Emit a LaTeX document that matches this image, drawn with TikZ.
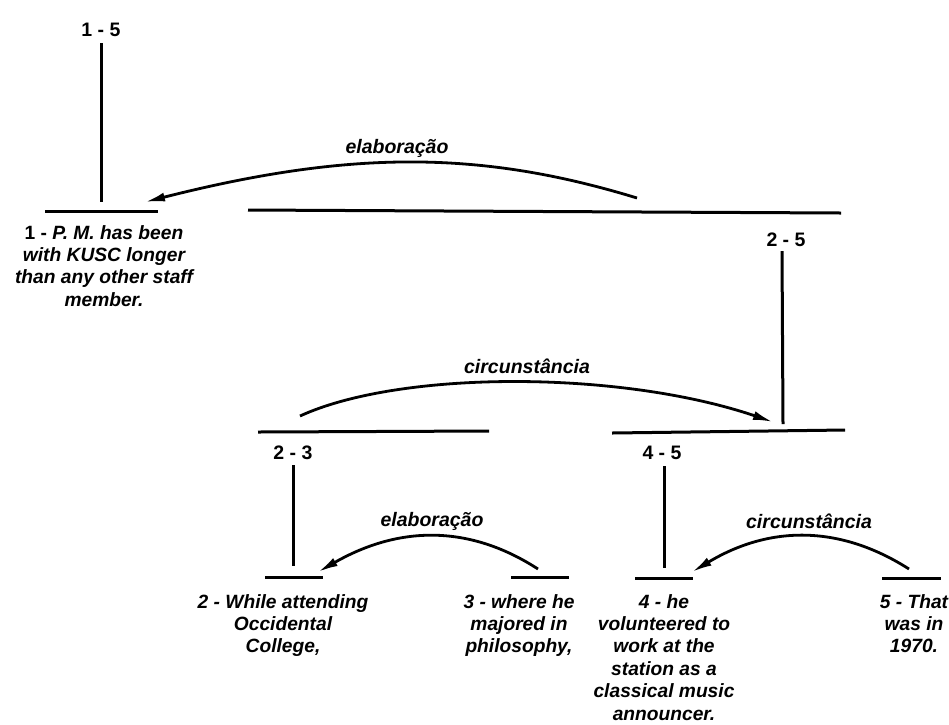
\documentclass[tikz,border=0pt]{standalone}
\usepackage{fontspec}
\setmainfont{Liberation Sans}
\usetikzlibrary{arrows.meta}
\begin{document}
\begin{tikzpicture}[x=1pt,y=-1pt,
  seg/.style={line width=3pt},
  rel/.style={line width=2.8pt,-{Latex[length=20pt,width=9pt]}},
  span/.style={font=\fontsize{19.5}{22.4}\selectfont\bfseries,inner sep=0pt},
  relname/.style={font=\fontsize{19.5}{22.4}\selectfont\bfseries\itshape,inner sep=0pt},
  leaf/.style={font=\fontsize{19.2}{22.4}\selectfont\bfseries\itshape,inner sep=0pt,align=center,anchor=north}]
\useasboundingbox (0,0) rectangle (949,724);

% root 1-5
\node[span] (s15) at (101,30) {1 - 5};
\coordinate (t15) at (101,43);
\coordinate (b15) at (101,202);
\draw[seg] (t15) -- (b15);

% leaf 1
\coordinate (l1a) at (45,211);
\coordinate (l1b) at (158,211);
\draw[seg] (l1a) -- (l1b);
\node[leaf] (u1) at (104,225) {{\upshape 1 -} P. M. has been\\with KUSC longer\\than any other staff\\member.};

% span 2-5
\coordinate (p25a) at (248,210);
\coordinate (p25b) at (841,213);
\draw[seg] (p25a) -- (p25b);
\node[span] (s25) at (786,240) {2 - 5};
\coordinate (t25) at (782,251);
\coordinate (b25) at (783,424);
\draw[seg] (t25) -- (b25);

% elaboração 2-5 -> 1
\coordinate (e1s) at (637,198);
\coordinate (e1t) at (145,202);
\draw[rel] (e1s) .. controls (480,150) and (350,150) .. (e1t);
\node[relname] (r1) at (397,148) {elaboração};

% span 2-3 and 4-5
\coordinate (p23a) at (258,432);
\coordinate (p23b) at (489,431);
\draw[seg] (p23a) -- (p23b);
\coordinate (p45a) at (612,433);
\coordinate (p45b) at (845,430);
\draw[seg] (p45a) -- (p45b);

% circunstância 2-3 -> 4-5
\coordinate (c1s) at (300,416);
\coordinate (c1t) at (773,422);
\draw[rel] (c1s) .. controls (400,370) and (620,370) .. (c1t);
\node[relname] (r2) at (527,366) {circunstância};

\node[span] (s23) at (293,453) {2 - 3};
\coordinate (t23) at (293,465);
\coordinate (b23) at (293,566);
\draw[seg] (t23) -- (b23);

\node[span] (s45) at (662,453) {4 - 5};
\coordinate (t45) at (664,466);
\coordinate (b45) at (664,568);
\draw[seg] (t45) -- (b45);

% leaves 2..5
\coordinate (l2a) at (265,577); \coordinate (l2b) at (323,577);
\coordinate (l3a) at (511,577); \coordinate (l3b) at (569,577);
\coordinate (l4a) at (635,578); \coordinate (l4b) at (693,578);
\coordinate (l5a) at (882,578); \coordinate (l5b) at (941,578);
\draw[seg] (l2a) -- (l2b);
\draw[seg] (l3a) -- (l3b);
\draw[seg] (l4a) -- (l4b);
\draw[seg] (l5a) -- (l5b);

\node[leaf] (u2) at (283,594) {2 - While attending\\Occidental\\College,};
\node[leaf] (u3) at (519,594) {3 - where he\\majored in\\philosophy,};
\node[leaf] (u4) at (664,594) {4 - he\\volunteered to\\work at the\\station as a\\classical music\\announcer.};
\node[leaf] (u5) at (914,594) {5 - That\\was in\\1970.};

% elaboração 3 -> 2
\coordinate (e2s) at (538,569);
\coordinate (e2t) at (318,572);
\draw[rel] (e2s) .. controls (470,525) and (400,525) .. (e2t);
\node[relname] (r3) at (432,521) {elaboração};

% circunstância 5 -> 4
\coordinate (c2s) at (909,569);
\coordinate (c2t) at (692,572);
\draw[rel] (c2s) .. controls (840,525) and (770,525) .. (c2t);
\node[relname] (r4) at (809,521) {circunstância};
\end{tikzpicture}
\end{document}
